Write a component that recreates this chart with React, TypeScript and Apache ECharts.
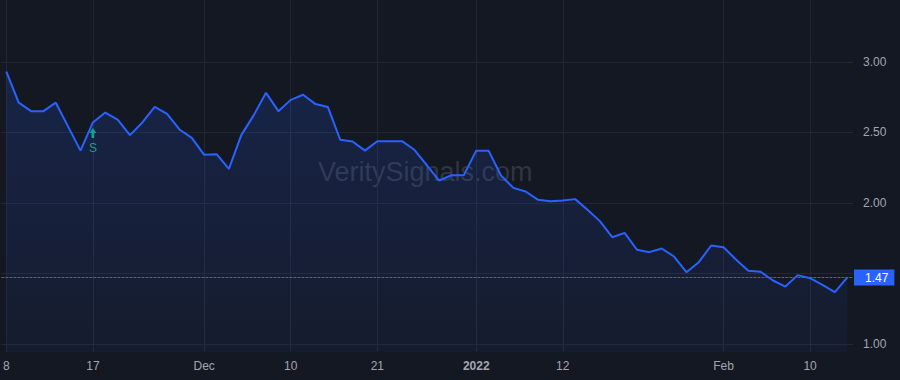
import React, { useEffect, useRef } from "react";
import * as echarts from "echarts";

// Daily closing values (trading days, Nov 8 2021 → Feb 15 2022)
const values: number[] = [
  2.93, 2.71, 2.65, 2.65, 2.71, 2.54, 2.37, 2.57, 2.64, 2.59,
  2.48, 2.57, 2.68, 2.63, 2.52, 2.46, 2.34, 2.345, 2.24, 2.48,
  2.62, 2.78, 2.65, 2.73, 2.766, 2.70, 2.68, 2.447, 2.435, 2.37,
  2.437, 2.437, 2.437, 2.376, 2.267, 2.158, 2.196, 2.196, 2.37, 2.37,
  2.194, 2.106, 2.08, 2.021, 2.011, 2.016, 2.026, 1.95, 1.87, 1.756,
  1.787, 1.667, 1.65, 1.676, 1.619, 1.508, 1.579, 1.697, 1.685, 1.598,
  1.518, 1.511, 1.449, 1.406, 1.487, 1.465, 1.418, 1.366, 1.47,
];

// x-axis tick positions (bar index) and their labels
const xTickIndices: number[] = [0, 7, 16, 23, 30, 38, 45, 58, 65];
const xTickLabels: string[] = ["8", "17", "Dec", "10", "21", "2022", "12", "Feb", "10"];
const boldLabels: string[] = ["2022"];

// y-axis grid values and labels
const yGridValues: number[] = [1, 1.5, 2, 2.5, 3];
const yLabelValues: number[] = [1, 2, 2.5, 3];

// signal marker
const signalIndex = 7;
const signalText = "S";

const watermark = "VeritySignals.com";

export default function App() {
  const ref = useRef<HTMLDivElement>(null);

  useEffect(() => {
    document.body.style.margin = "0";
    if (!ref.current) return;
    const chart = echarts.init(ref.current, undefined, { renderer: "svg" });
    const font = "'Liberation Sans', Arial, sans-serif";
    const lastValue = values[values.length - 1];
    const xMin = -0.4;
    const xMax = 68.47;

    chart.setOption({
      animation: false,
      backgroundColor: "#141823",
      textStyle: { fontFamily: font },
      grid: { left: 0, right: 47, top: 0, bottom: 28, containLabel: false },
      graphic: [
        {
          type: "text",
          left: 318,
          top: 158,
          silent: true,
          style: {
            text: watermark,
            fontSize: 27,
            fontFamily: font,
            fill: "rgba(178,181,190,0.2)",
          },
        },
      ],
      xAxis: {
        type: "value",
        min: xMin,
        max: xMax,
        axisLine: { show: false },
        axisTick: { show: false, customValues: xTickIndices },
        splitLine: { show: true, lineStyle: { color: "#232733", width: 1 } },
        axisLabel: {
          customValues: xTickIndices,
          color: "#A3A6AF",
          fontSize: 12,
          margin: 8,
          fontFamily: font,
          formatter: (v: number) => {
            const i = xTickIndices.indexOf(Math.round(v));
            const t = i >= 0 ? xTickLabels[i] : "";
            return boldLabels.includes(t) ? `{b|${t}}` : t;
          },
          rich: {
            b: { fontWeight: "bold", color: "#A3A6AF", fontSize: 12, fontFamily: font },
          },
        },
      },
      yAxis: {
        type: "value",
        position: "right",
        min: 0.9418,
        max: 3.4383,
        axisLine: { show: false },
        axisTick: { show: false, customValues: yGridValues },
        splitLine: { show: true, lineStyle: { color: "#232733", width: 1 } },
        axisLabel: {
          customValues: yLabelValues,
          color: "#A3A6AF",
          fontSize: 12,
          margin: 10,
          fontFamily: font,
          formatter: (v: number) => v.toFixed(2),
        },
      },
      series: [
        {
          type: "line",
          name: "last",
          data: [
            [xMin, lastValue],
            [xMax, lastValue],
          ],
          showSymbol: false,
          symbol: "none",
          silent: true,
          z: 3,
          lineStyle: { color: "#2962FF", width: 1, type: [3, 1] },
          itemStyle: { color: "#2962FF" },
          endLabel: {
            show: true,
            distance: 1,
            formatter: () => lastValue.toFixed(2),
            backgroundColor: "#2962FF",
            color: "#FFFFFF",
            fontSize: 12,
            fontFamily: font,
            lineHeight: 12,
            padding: [2, 6, 2, 11],
          },
        },
        {
          type: "line",
          name: "price",
          data: values.map((v, i) => [i, v]),
          showSymbol: false,
          symbol: "none",
          z: 2,
          lineStyle: { color: "#2962FF", width: 2 },
          itemStyle: { color: "#2962FF" },
          areaStyle: {
            origin: "start",
            color: new echarts.graphic.LinearGradient(0, 0, 0, 1, [
              { offset: 0, color: "rgba(41,98,255,0.24)" },
              { offset: 1, color: "rgba(41,98,255,0.07)" },
            ]),
          },
          markPoint: {
            silent: true,
            symbol: "path://M5,0 L10,5 L7,5 L7,10 L3,10 L3,5 L0,5 Z",
            symbolSize: [7, 10],
            symbolKeepAspect: false,
            symbolOffset: [0, 10.5],
            itemStyle: { color: "#1A9E88" },
            label: {
              show: true,
              position: "bottom",
              distance: 4,
              formatter: signalText,
              color: "#1A9E88",
              fontSize: 12,
              fontFamily: font,
            },
            data: [{ coord: [signalIndex, values[signalIndex]] }],
          },
        },
      ],
    });

    return () => chart.dispose();
  }, []);

  return <div ref={ref} style={{ width: 900, height: 380 }} />;
}
